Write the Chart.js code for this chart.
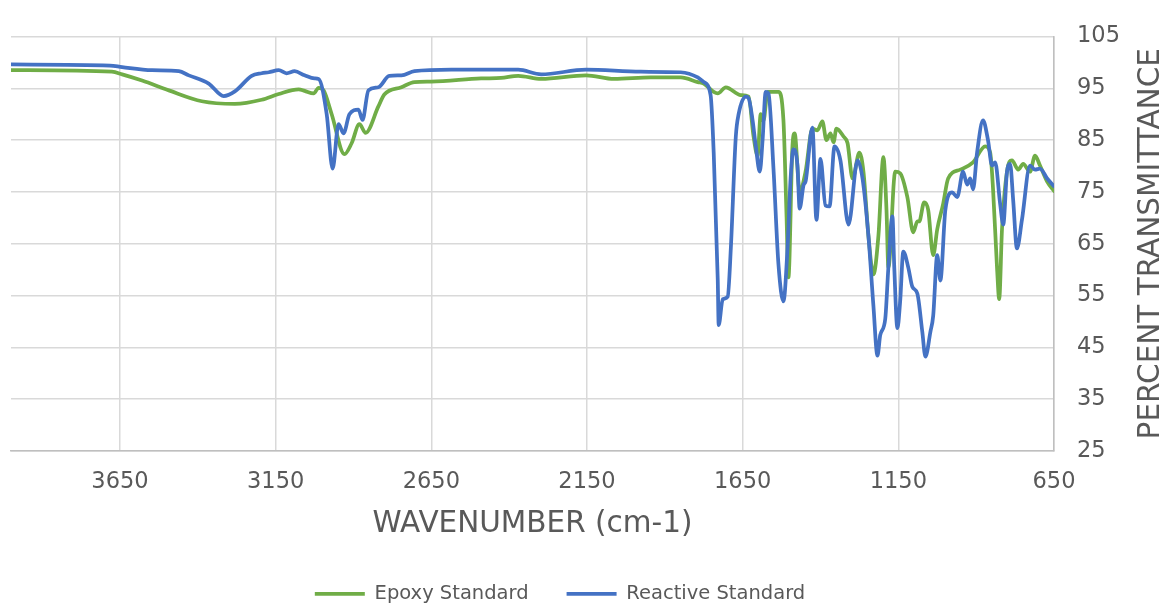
<!DOCTYPE html>
<html>
<head>
<meta charset="utf-8">
<script src="https://cdn.jsdelivr.net/npm/chart.js@4/dist/chart.umd.min.js"></script>
<style>
  body { margin: 0; background: #fff; }
</style>
</head>
<body>
<canvas id="chart" width="1169" height="609"></canvas>
<script>
"use strict";

// wavenumber ticks shown under the plot
const xTicks = [650, 1150, 1650, 2150, 2650, 3150, 3650];

// Epoxy Standard (green)
const epoxyWn = [4000, 3676, 3643, 3579, 3493, 3387, 3281, 3195, 3140, 3076, 3057, 3028, 3012, 2996, 2970, 2929, 2906, 2881, 2861, 2820, 2801, 2746, 2704, 2650, 2490, 2426, 2371, 2297, 2153, 2063, 1945, 1849, 1794, 1775, 1743, 1730, 1704, 1656, 1631, 1615, 1602, 1592, 1583, 1570, 1535, 1519, 1509, 1503, 1490, 1483, 1467, 1448, 1426, 1410, 1394, 1381, 1368, 1358, 1349, 1326, 1313, 1297, 1275, 1262, 1246, 1230, 1214, 1198, 1188, 1182, 1160, 1144, 1121, 1102, 1089, 1083, 1067, 1054, 1038, 1025, 1006, 990, 951, 910, 871, 855, 846, 833, 826, 817, 801, 785, 765, 749, 727, 711, 695, 672, 650];
const epoxyT = [98.5, 98.2, 97.7, 96.5, 94.6, 92.5, 92.0, 92.8, 93.9, 94.8, 94.5, 94.0, 95.1, 94.6, 90, 82.3, 84.4, 88.1, 86.4, 91.5, 93.8, 95.2, 96.2, 96.3, 96.9, 97.0, 97.4, 96.8, 97.5, 96.8, 97.1, 97.1, 96.2, 95.9, 94.3, 94.0, 95.2, 93.7, 93.4, 85.7, 82, 90, 88.8, 94.3, 94.3, 88.8, 70.2, 58.5, 83.9, 86.3, 75.2, 78.9, 87.2, 86.9, 88.6, 85, 86.3, 84.6, 87.2, 85.7, 84.4, 77.6, 82.6, 78.9, 66.5, 59.1, 66.5, 81.7, 71.5, 60.4, 78.9, 78.6, 74, 67.2, 69.3, 69.3, 73, 71.5, 62.8, 67.8, 72.7, 77.6, 79.3, 80.7, 83.8, 82.6, 75.8, 60.4, 54.3, 67.8, 78.9, 81.1, 79.3, 80.4, 78.9, 82, 80.1, 77, 75.2];

// Reactive Standard (blue)
const reactiveWn = [4000, 3682, 3643, 3547, 3461, 3429, 3365, 3317, 3281, 3227, 3195, 3172, 3140, 3115, 3089, 3057, 3025, 3012, 2986, 2967, 2948, 2932, 2913, 2884, 2871, 2852, 2820, 2785, 2746, 2704, 2586, 2371, 2297, 2153, 1977, 1849, 1794, 1775, 1753, 1743, 1730, 1727, 1714, 1698, 1688, 1672, 1663, 1640, 1631, 1618, 1608, 1595, 1586, 1576, 1567, 1551, 1535, 1519, 1506, 1496, 1487, 1474, 1467, 1454, 1448, 1426, 1413, 1400, 1384, 1371, 1355, 1336, 1310, 1281, 1265, 1246, 1230, 1217, 1208, 1192, 1182, 1169, 1163, 1153, 1144, 1134, 1118, 1105, 1089, 1073, 1063, 1047, 1038, 1025, 1015, 999, 977, 961, 942, 929, 919, 910, 897, 878, 862, 849, 839, 823, 813, 801, 791, 781, 769, 753, 727, 711, 695, 672, 650];
const reactiveT = [99.6, 99.4, 99.1, 98.5, 98.3, 97.5, 95.9, 93.5, 94.4, 97.4, 97.9, 98.1, 98.5, 97.9, 98.3, 97.5, 96.9, 96.8, 90, 79.5, 88.1, 86.3, 90, 90.9, 88.9, 94.6, 95.2, 97.4, 97.5, 98.3, 98.6, 98.6, 97.7, 98.6, 98.2, 98.1, 97.1, 96.2, 93.7, 82.6, 58, 49.3, 54.3, 54.8, 64.1, 85.7, 90, 93.4, 93.1, 88.8, 83.9, 78.9, 85, 94.3, 94.0, 79.5, 61, 53.9, 64.1, 77.6, 83.2, 80.1, 71.8, 76.4, 77, 87.4, 69.6, 81.4, 72.4, 72.2, 83.8, 81.1, 68.7, 81.1, 77.6, 66.5, 53, 43.4, 47.4, 50.5, 60.4, 70.3, 60.4, 48.7, 54, 63.5, 60.4, 56.7, 55.4, 48, 43.2, 48, 51.1, 62.8, 57.9, 71.5, 74.9, 74, 78.9, 76.4, 77.6, 75.5, 82.6, 88.8, 85, 80.1, 80.7, 72.7, 68.7, 78.9, 80.4, 73.3, 64.1, 69.6, 80.1, 79.3, 79.5, 77.6, 76.1];

const TEXT = "#595959";
Chart.defaults.font.family = "'DejaVu Sans', Verdana, sans-serif";
Chart.defaults.color = TEXT;

function toPoints(xs, ys) {
  return xs.map((x, i) => ({ x: x, y: ys[i] }));
}

// y axis title reads bottom-to-top on the right side, so draw it here
const rightTitle = {
  id: "rightTitle",
  afterLayout(chart) {
    // legend sits a bit left of the canvas centre
    chart.legend.left -= 30;
    chart.legend.right -= 30;
  },
  afterDraw(chart) {
    const ctx = chart.ctx;
    const area = chart.chartArea;
    ctx.save();
    ctx.translate(area.right + 105, (area.top + area.bottom) / 2);
    ctx.rotate(-Math.PI / 2);
    ctx.font = "29.5px 'DejaVu Sans'";
    ctx.fillStyle = TEXT;
    ctx.textAlign = "center";
    ctx.textBaseline = "alphabetic";
    ctx.fillText("PERCENT TRANSMITTANCE", 0, 0);
    ctx.restore();
  }
};

new Chart(document.getElementById("chart"), {
  type: "line",
  data: {
    datasets: [
      {
        label: "Epoxy Standard",
        data: toPoints(epoxyWn, epoxyT),
        borderColor: "#70AD47",
        backgroundColor: "#70AD47",
        borderWidth: 3.75,
        borderCapStyle: "round",
        pointRadius: 0,
        cubicInterpolationMode: "monotone",
        order: 1
      },
      {
        label: "Reactive Standard",
        data: toPoints(reactiveWn, reactiveT),
        borderColor: "#4472C4",
        backgroundColor: "#4472C4",
        borderWidth: 3.75,
        borderCapStyle: "round",
        pointRadius: 0,
        cubicInterpolationMode: "monotone",
        order: 0
      }
    ]
  },
  options: {
    responsive: false,
    animation: false,
    devicePixelRatio: 1,
    layout: {
      padding: { left: 11, top: 19, right: 0, bottom: -4.5 }
    },
    scales: {
      x: {
        type: "linear",
        reverse: true,
        min: 650,
        max: 4000,
        afterBuildTicks: scale => {
          scale.ticks = xTicks.map(v => ({ value: v }));
        },
        afterFit: scale => {
          scale.height = 95;
        },
        grid: { color: "#d9d9d9", lineWidth: 1.5, drawTicks: false },
        border: { color: "#bfbfbf", width: 1.5 },
        ticks: {
          padding: 18,
          font: { size: 22.5 },
          maxRotation: 0,
          callback: v => String(v)
        },
        title: {
          display: true,
          text: "WAVENUMBER (cm-1)",
          font: { size: 29.5 },
          padding: { top: 0, bottom: 4 }
        }
      },
      y: {
        position: "right",
        min: 25,
        max: 105,
        afterFit: scale => {
          scale.width = 115;
        },
        grid: { color: "#d9d9d9", lineWidth: 1.5, drawTicks: false },
        border: { color: "#bfbfbf", width: 1.5 },
        ticks: { stepSize: 10, padding: 23, font: { size: 22.5 } }
      }
    },
    plugins: {
      tooltip: { enabled: false },
      legend: {
        position: "bottom",
        labels: {
          usePointStyle: true,
          pointStyle: "line",
          pointStyleWidth: 50,
          padding: 38,
          font: { size: 19.5 },
          color: TEXT,
          sort: (a, b) => a.datasetIndex - b.datasetIndex
        }
      }
    }
  },
  plugins: [rightTitle]
});
</script>
</body>
</html>
